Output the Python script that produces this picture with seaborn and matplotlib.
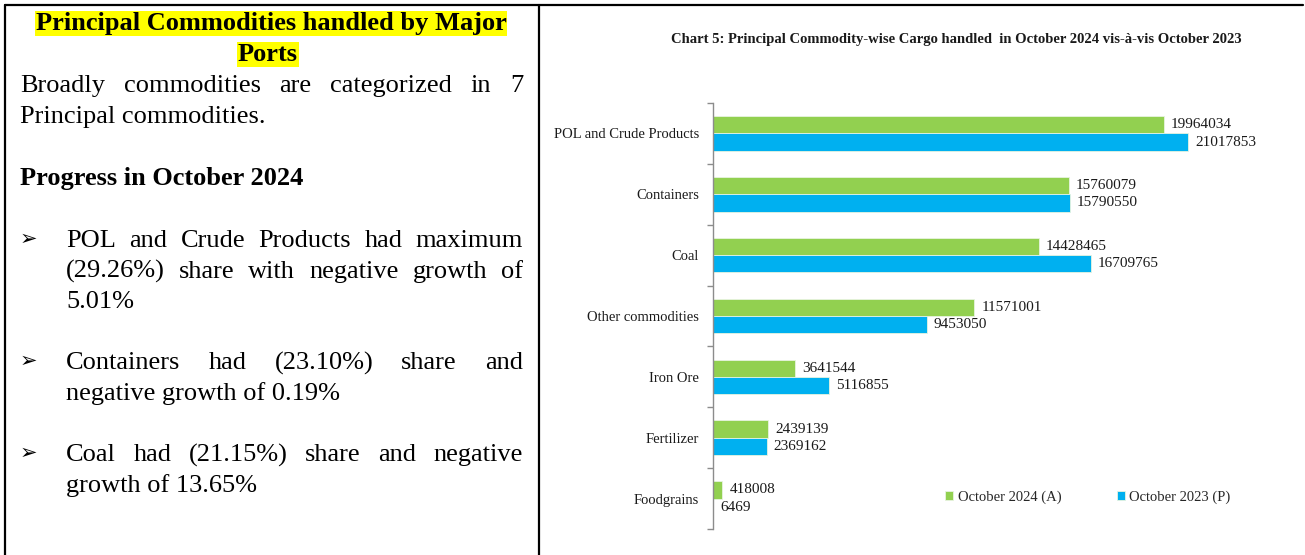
import numpy as np
import pandas as pd
import matplotlib
matplotlib.use('Agg')
import matplotlib.pyplot as plt
import seaborn as sns
from matplotlib.lines import Line2D

# chart data (tonnes)
commodities = ['POL and Crude Products', 'Containers', 'Coal', 'Other commodities',
               'Iron Ore', 'Fertilizer', 'Foodgrains']
oct_2024 = [19964034, 15760079, 14428465, 11571001, 3641544, 2439139, 418008]
oct_2023 = [21017853, 15790550, 16709765, 9453050, 5116855, 2369162, 6469]
periods = ['October 2024 (A)', 'October 2023 (P)']
colors = ['#92D050', '#00B0F0']

W, H = 1305, 555

sns.set_theme(style='white')
plt.rcParams['font.family'] = ['Liberation Serif', 'DejaVu Sans']

fig = plt.figure(figsize=(W / 100, H / 100), dpi=100)
fig.patch.set_facecolor('white')
renderer = fig.canvas.get_renderer()


def fx(x):
    return x / W


def fy(y):
    return 1 - y / H


def text_width(s, **kw):
    t = fig.text(0, 0, s, **kw)
    w = t.get_window_extent(renderer).width
    t.remove()
    return w


def put_line(s, y, x0, x1=None, **kw):
    words = s.split()
    if x1 is None or len(words) == 1:
        fig.text(fx(x0), fy(y), s, va='baseline', **kw)
        return
    ws = [text_width(w, **kw) for w in words]
    gap = (x1 - x0 - sum(ws)) / (len(words) - 1)
    x = x0
    for w, wd in zip(words, ws):
        fig.text(fx(x), fy(y), w, va='baseline', **kw)
        x += wd + gap


# ---- table borders ----
lw = 1.6
fig.add_artist(Line2D([fx(5), fx(1303)], [fy(5), fy(5)], color='black', lw=lw))
fig.add_artist(Line2D([fx(5), fx(5)], [fy(5), fy(555)], color='black', lw=lw))
fig.add_artist(Line2D([fx(539), fx(539)], [fy(5), fy(555)], color='black', lw=lw))

# ---- left text panel ----
body = dict(fontsize=19, color='black')
hl = dict(boxstyle='square,pad=0.04', fc='#FFFF00', ec='none')
fig.text(fx(271), fy(30), 'Principal Commodities handled by Major', ha='center', va='baseline',
         fontweight='bold', bbox=hl, **body)
fig.text(fx(268), fy(61), 'Ports', ha='center', va='baseline', fontweight='bold', bbox=hl, **body)

put_line('Broadly commodities are categorized in 7', 92, 20, 523, **body)
put_line('Principal commodities.', 123, 20, **body)
put_line('Progress in October 2024', 185, 20, fontweight='bold', **body)

sp = 30.6
y0 = 247
bullets = [
    (['POL and Crude Products had maximum', '(29.26%) share with negative growth of', '5.01%'], y0),
    (['Containers had (23.10%) share and', 'negative growth of 0.19%'], y0 + 4 * sp),
    (['Coal had (21.15%) share and negative', 'growth of 13.65%'], y0 + 7 * sp),
]
for lines, yb in bullets:
    fig.text(fx(20), fy(yb - 8), '\u27a2', family=['DejaVu Sans'], fontsize=15,
             va='center', ha='left', color='black')
    for i, s in enumerate(lines):
        last = i == len(lines) - 1
        put_line(s, yb + i * sp, 66, None if last else 523, **body)

# ---- chart ----
df = pd.DataFrame({
    'commodity': commodities * 2,
    'value': oct_2024 + oct_2023,
    'period': [periods[0]] * len(commodities) + [periods[1]] * len(commodities),
})

ax = fig.add_axes([fx(713), fy(529), (1280 - 713) / W, (529 - 103) / H])
sns.barplot(data=df, y='commodity', x='value', hue='period', orient='h',
            palette=colors, saturation=1, width=0.57, gap=0, ax=ax, errorbar=None,
            edgecolor='#e8f4e0', linewidth=0.6)

for cont in ax.containers:
    ax.bar_label(cont, fmt='{:.0f}', padding=5, fontsize=11, color='#1a1a1a')

ax.set_xlim(0, 25.09e6)
ax.set_ylim(6.5, -0.5)
ax.set_yticks(np.arange(-0.5, 7, 1))
ax.set_yticklabels([])
ax.set_yticks(range(len(commodities)), minor=True)
ax.set_yticklabels(commodities, minor=True, fontsize=10.5, color='#1a1a1a')
ax.tick_params(axis='y', which='major', length=4, width=1, color='#8c8c8c', left=True, direction='out')
ax.tick_params(axis='y', which='minor', length=0, pad=10)
ax.set_xticks([])
ax.set_xlabel('')
ax.set_ylabel('')
for s in ['top', 'right', 'bottom']:
    ax.spines[s].set_visible(False)
ax.spines['left'].set_color('#8c8c8c')
ax.spines['left'].set_linewidth(1)
ax.set_facecolor('none')

handles, labels = ax.get_legend_handles_labels()
ax.get_legend().remove()
fig.legend(handles, labels, loc='center', bbox_to_anchor=(fx(1088), fy(497)), ncol=2,
           frameon=False, handlelength=0.55, handleheight=0.55, handletextpad=0.3,
           columnspacing=3.8, prop={'size': 10.5})

fig.text(fx(956), fy(40),
         'Chart 5: Principal Commodity-wise Cargo handled  in October 2024 vis-\u00e0-vis October 2023',
         ha='center', va='center', fontweight='bold', fontsize=10.5, color='#1a1a1a')

fig.savefig('out.png', dpi=100)
